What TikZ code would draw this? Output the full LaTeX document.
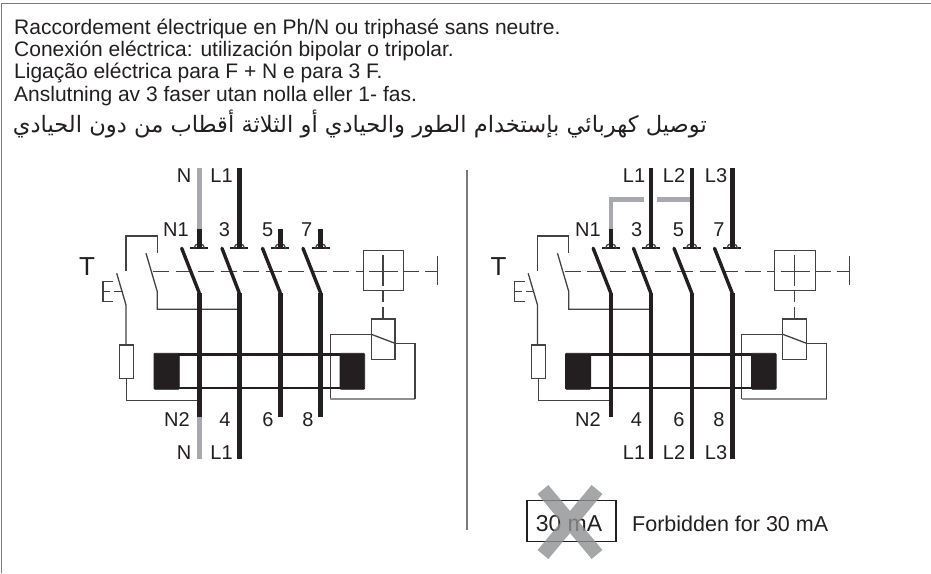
\documentclass[tikz,border=0pt]{standalone}
\usepackage{fontspec}
\setmainfont{Liberation Sans}
\newfontfamily\arabicfont[Script=Arabic]{DejaVu Sans}
\TeXXeTstate=1
\definecolor{ink}{HTML}{231F20}
\definecolor{wiregrey}{HTML}{A7A9AC}
\definecolor{xgrey}{HTML}{8F9092}
\tikzset{
  pole/.style={draw=ink,line width=4.6pt},
  greypole/.style={draw=wiregrey,line width=4.6pt},
  blade/.style={draw=ink,line width=3.4pt,line cap=round},
  thin wire/.style={draw=ink!85,line width=1.3pt},
  ctrl dash/.style={draw=ink!85,line width=1.3pt,dash pattern=on 16pt off 6.5pt},
  lab/.style={font=\fontsize{20}{20}\selectfont,text=ink,inner sep=0pt,anchor=base},
  head/.style={font=\fontsize{21}{21}\selectfont,text=ink,inner sep=0pt,anchor=base west},
  core/.style={fill=ink,draw=ink,line width=.8pt,rounded corners=1pt},
}
% one switchgear unit, shifted by #1
\newcommand{\unit}[1]{%
\begin{scope}[xshift=#1]
  % aux
  \draw[thin wire] (126,271) -- (126,236) -- (157.3,236) -- (157.3,252.7);
  \draw[thin wire] (146,253.3) -- (157.3,291.7) -- (157.3,309.3) -- (239.3,309.3);
  \draw[thin wire] (116.7,273.3) -- (126,305) -- (126,345);
  \draw[thin wire] (119.7,345) rectangle (133.7,378.7);
  \draw[thin wire] (126.7,378.7) -- (126.7,400.7) -- (199.3,400.7);
  \draw[thin wire] (113,281.7) -- (103,281.7) -- (103,301.7) -- (113,301.7);
  \draw[thin wire] (103,291.2) -- (110,291.2) (114,291.2) -- (122.7,291.2);
  % dashed operating line
  \draw[ctrl dash] (153,271.7) -- (363.3,271.7);
  \draw[thin wire] (404,271.7) -- (419,271.7) (425,271.7) -- (437.7,271.7);
  \draw[thin wire] (437.7,256) -- (437.7,285);
  \draw[thin wire] (363.3,250.7) rectangle (403.7,290.7);
  \draw[thin wire] (369.3,271.7) -- (398.3,271.7) (383,255) -- (383,286);
  \draw[thin wire] (383,290.7) -- (383,301.7) (383,307.3) -- (383,319);
  \draw[thin wire] (371.3,319) rectangle (395,359.7);
  \draw[thin wire] (371.3,334.3) -- (395,343.3);
  \draw[thin wire] (371.3,334.3) -- (330.3,334.3) -- (330.3,399);
  \draw[draw=ink!50,line width=1.3pt] (330.3,399) -- (415,399);
  \draw[thin wire] (415,399) -- (415,343.3) -- (395,343.3);
  % toroid
  \draw[core] (154,353.3) rectangle (179.3,389.3);
  \draw[core] (340,353.3) rectangle (364.7,389.3);
  \draw[draw=ink,line width=2.6pt] (179.3,354.6) -- (340,354.6) (179.3,387.8) -- (340,387.8);
  % poles
  \foreach \bx/\px in {181.7/199.3,222/239.3,262.5/280.3,303/320.7}{
    \draw[blade] (\bx,248.3) -- (\px,293);
  }
  % terminals
  \foreach \px in {199.3,239.3,280.3,320.7}{
    \draw[draw=ink,line width=2.6pt] (\px-9,248) -- (\px+9,248);
    \draw[thin wire] (\px-5.5,249) arc[start angle=180,end angle=360,radius=5.5];
  }
\end{scope}}
\begin{document}
\begin{tikzpicture}[x=1pt,y=-1pt]
\useasboundingbox (0,0) rectangle (931,573);
\draw[draw=ink!60,line width=1.3pt] (1.7,573) -- (1.7,3.7) -- (931,3.7);
\node[head] (h1) at (14,34) {Raccordement électrique en Ph/N ou triphasé sans neutre.};
\node[head] (h2) at (14,56.5) {Conexión eléctrica: utilización bipolar o tripolar.};
\node[head] (h3) at (14,78.5) {Ligação eléctrica para F + N e para 3 F.};
\node[head] (h4) at (14,101) {Anslutning av 3 faser utan nolla eller 1- fas.};
\node[inner sep=0pt,anchor=base east,text=ink] (h5) at (707,132) {\fontsize{22.6}{22.6}\selectfont\arabicfont\beginR توصيل كهربائي بإستخدام الطور والحيادي أو الثلاثة أقطاب من دون الحيادي\endR};
\draw[draw=ink!60,line width=1.5pt] (467,170) -- (467,530);
\unit{0pt}
\unit{411.5pt}
% left connections
\draw[greypole] (199.3,168) -- (199.3,229);
\draw[pole] (199.3,229) -- (199.3,248);
\draw[pole] (239.3,168) -- (239.3,248);
\draw[pole] (280.3,229) -- (280.3,248);
\draw[pole] (320.7,229) -- (320.7,248);
\draw[pole] (199.3,293) -- (199.3,416.7);
\draw[greypole] (199.3,416.7) -- (199.3,459);
\draw[pole] (239.3,293) -- (239.3,459);
\draw[pole] (280.3,293) -- (280.3,416.7);
\draw[pole] (320.7,293) -- (320.7,416.7);
% right connections
\draw[greypole] (657,199.3) -- (691.7,199.3);
\draw[greypole] (644,199.3) -- (610.8,199.3);
\draw[greypole] (610.8,197) -- (610.8,229);
\draw[pole] (610.8,229) -- (610.8,248);
\draw[pole] (650.8,168) -- (650.8,248);
\draw[pole] (691.8,168) -- (691.8,248);
\draw[pole] (732.2,168) -- (732.2,248);
\draw[pole] (610.8,293) -- (610.8,416.7);
\draw[pole] (650.8,293) -- (650.8,459);
\draw[pole] (691.8,293) -- (691.8,459);
\draw[pole] (732.2,293) -- (732.2,459);
% labels
\node[lab] (a1) at (184,182.5) {N};
\node[lab] (a2) at (221.5,182.5) {L1};
\node[lab] (a3) at (176,236.7) {N1};
\node[lab] (a4) at (224.5,236.7) {3};
\node[lab] (a5) at (267.7,236.7) {5};
\node[lab] (a6) at (306.7,236.7) {7};
\node[lab] (a7) at (177,426.7) {N2};
\node[lab] (a8) at (225,426.7) {4};
\node[lab] (a9) at (268,426.7) {6};
\node[lab] (a10) at (308,426.7) {8};
\node[lab] (a11) at (184,459.5) {N};
\node[lab] (a12) at (221.5,459.5) {L1};
\node[lab] (b1) at (634,182.5) {L1};
\node[lab] (b2) at (674,182.5) {L2};
\node[lab] (b3) at (716,182.5) {L3};
\node[lab] (b4) at (588,236.7) {N1};
\node[lab] (b5) at (636.7,236.7) {3};
\node[lab] (b6) at (678.5,236.7) {5};
\node[lab] (b7) at (719,236.7) {7};
\node[lab] (b8) at (588,426.7) {N2};
\node[lab] (b9) at (636.5,426.7) {4};
\node[lab] (b10) at (679,426.7) {6};
\node[lab] (b11) at (719,426.7) {8};
\node[lab] (b12) at (634,459.5) {L1};
\node[lab] (b13) at (674,459.5) {L2};
\node[lab] (b14) at (716,459.5) {L3};
\node[lab,font=\fontsize{26}{26}\selectfont] (t1) at (87,275) {T};
\node[lab,font=\fontsize{26}{26}\selectfont] (t2) at (498.5,275) {T};
% 30 mA
\draw[draw=ink,line width=1.3pt] (527,500.7) rectangle (616,541.7);
\node[inner sep=0pt,anchor=base,font=\fontsize{23}{23}\selectfont,text=ink] (ma) at (569,531) {30 mA};
\draw[draw=xgrey,line width=14pt,opacity=.8] (543,554.5) -- (597,489.5) (543,489.5) -- (597,554.5);
\node[lab,anchor=base west,font=\fontsize{21.5}{21.5}\selectfont] (fb) at (632,531) {Forbidden for 30 mA};
\end{tikzpicture}
\end{document}
